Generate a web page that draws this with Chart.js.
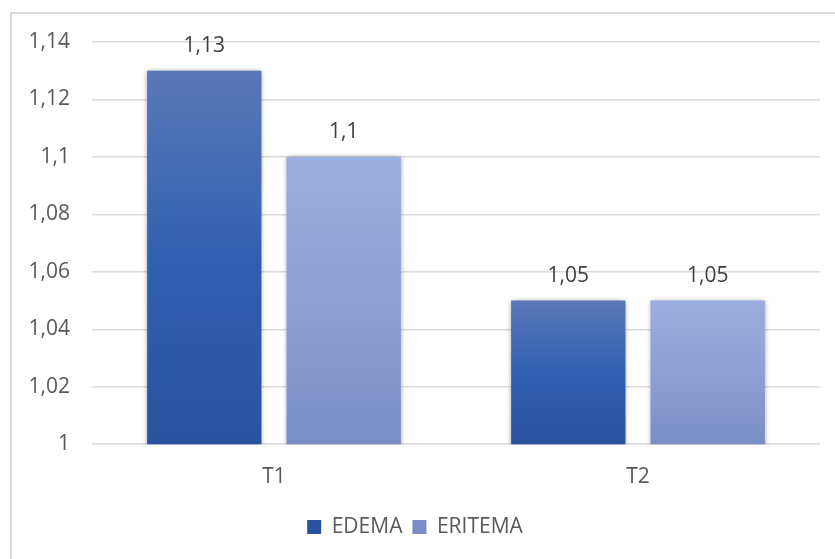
<!DOCTYPE html>
<html lang="es">
  <head>
    <meta charset="UTF-8" />
    <title>Edema / Eritema</title>
    <script src="https://cdn.jsdelivr.net/npm/chart.js"></script>
    <style>
      body {
        margin: 0;
        background: #ffffff;
        font-family: 'Open Sans', sans-serif;
        overflow: hidden;
      }
      .frame {
        position: absolute;
        left: 10px;
        top: 12px;
        width: 900px;
        height: 700px;
        border: 2px solid #d9d9d9;
      }
      #chart {
        position: absolute;
        left: 0;
        top: 0;
      }
    </style>
  </head>
  <body>
    <div class="frame"></div>
    <canvas id="chart" width="835" height="559"></canvas>

    <script>
      const categories = ['T1', 'T2'];
      const edema = [1.13, 1.05];
      const eritema = [1.1, 1.05];
      const yMin = 1;
      const yMax = 1.14;
      const yStep = 0.02;

      const FONT_SIZE = 21;

      // decimal comma, no trailing zeros: 1.10 -> "1,1"
      const fmt = v => String(Math.round(v * 100) / 100).replace('.', ',');

      // vertical gradient from the bar's top down to the axis base
      function barFill(stops, solid) {
        return ctx => {
          const chart = ctx.chart;
          if (!chart.chartArea || ctx.raw === undefined) return solid;
          const y = chart.scales.y;
          const top = y.getPixelForValue(ctx.raw);
          const base = y.getPixelForValue(yMin);
          const g = chart.ctx.createLinearGradient(0, top, 0, base);
          g.addColorStop(0, stops[0]);
          g.addColorStop(0.5, stops[1]);
          g.addColorStop(1, stops[2]);
          return g;
        };
      }

      const barEffects = {
        id: 'barEffects',
        beforeDatasetsDraw(chart) {
          const c = chart.ctx;
          c.save();
          c.shadowColor = 'rgba(0, 0, 0, 0.45)';
          c.shadowBlur = 5;
          c.shadowOffsetX = 0;
          c.shadowOffsetY = 0;
        },
        afterDatasetsDraw(chart) {
          const c = chart.ctx;
          c.restore();
          c.save();
          c.font = FONT_SIZE + 'px "Open Sans", sans-serif';
          c.fillStyle = '#404040';
          c.textAlign = 'center';
          c.textBaseline = 'middle';
          chart.data.datasets.forEach((ds, i) => {
            chart.getDatasetMeta(i).data.forEach((bar, j) => {
              c.fillText(fmt(ds.data[j]), bar.x, bar.y - 25);
            });
          });
          c.restore();
        }
      };

      new Chart(document.getElementById('chart'), {
        type: 'bar',
        data: {
          labels: categories,
          datasets: [
            {
              label: 'EDEMA',
              data: edema,
              backgroundColor: barFill(['#5a78b9', '#3160b1', '#2a52a0'], '#3461b3')
            },
            {
              label: 'ERITEMA',
              data: eritema,
              backgroundColor: barFill(['#9bade0', '#8da1d6', '#7a8ec6'], '#8fa3d8')
            }
          ]
        },
        options: {
          responsive: false,
          animation: false,
          categoryPercentage: 0.766,
          barPercentage: 0.82,
          layout: { padding: { left: 10, top: 42, right: 15, bottom: 11.4 } },
          plugins: {
            legend: {
              position: 'bottom',
              labels: {
                boxWidth: 14,
                boxHeight: 14,
                padding: 10,
                color: '#595959',
                font: { family: 'Open Sans', size: FONT_SIZE }
              }
            },
            tooltip: { enabled: false }
          },
          scales: {
            x: {
              grid: { display: false, drawTicks: false },
              border: { display: false },
              ticks: {
                color: '#595959',
                padding: 20,
                font: { family: 'Open Sans', size: FONT_SIZE }
              },
              afterFit(scale) { scale.height = 62.4; }
            },
            y: {
              min: yMin,
              max: yMax,
              grid: { color: '#d9d9d9', lineWidth: 1.5, drawTicks: false },
              border: { display: false },
              ticks: {
                stepSize: yStep,
                color: '#595959',
                padding: 22,
                font: { family: 'Open Sans', size: FONT_SIZE },
                callback: v => fmt(v)
              },
              afterFit(scale) { scale.width = 82; }
            }
          }
        },
        plugins: [barEffects]
      });
    </script>
  </body>
</html>
